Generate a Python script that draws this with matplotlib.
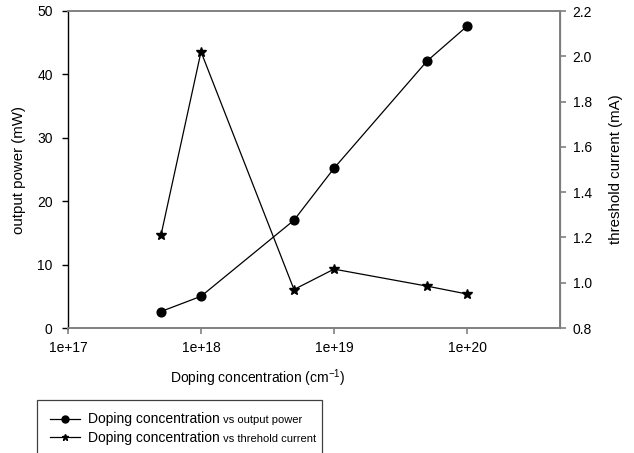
import matplotlib
matplotlib.use('Agg')
import matplotlib.pyplot as plt
from matplotlib.ticker import FixedLocator, FixedFormatter, NullLocator

plt.rcParams['font.family'] = ['Liberation Sans', 'DejaVu Sans']
plt.rcParams['mathtext.fontset'] = 'custom'
plt.rcParams['mathtext.rm'] = 'Liberation Sans'
plt.rcParams['mathtext.default'] = 'regular'

# ── Data ──────────────────────────────────────────────────────
doping = [5e17, 1e18, 5e18, 1e19, 5e19, 1e20]
output_power = [2.6, 5.0, 17.0, 25.2, 42.1, 47.6]          # mW
threshold_current = [1.21, 2.02, 0.97, 1.06, 0.985, 0.95]  # mA

xticks = [1e17, 1e18, 1e19, 1e20]
xtick_labels = ['1e+17', '1e+18', '1e+19', '1e+20']
left_ticks = [0, 10, 20, 30, 40, 50]
right_ticks = [0.8, 1.0, 1.2, 1.4, 1.6, 1.8, 2.0, 2.2]
legend_labels = ['Doping concentration', 'Doping concentration']
legend_suffixes = [' vs output power', ' vs threhold current']

GRAY = '#808080'

fig = plt.figure(figsize=(6.34, 4.53), dpi=100)
ax = fig.add_axes([68/634, 1-328/453, (560-68)/634, (328-11)/453])
ax2 = ax.twinx()

l1, = ax.plot(doping, output_power, color='black', lw=0.9, marker='o', ms=6.3)
l2, = ax2.plot(doping, threshold_current, color='black', lw=0.9, marker='*', ms=7.5)

ax.set_xscale('log')
ax.set_xlim(1e17, 5e20)
ax.set_ylim(0, 50)
ax2.set_ylim(0.8, 2.2)

ax.xaxis.set_major_locator(FixedLocator(xticks))
ax.xaxis.set_major_formatter(FixedFormatter(xtick_labels))
ax.xaxis.set_minor_locator(NullLocator())
ax.set_yticks(left_ticks)
ax2.set_yticks(right_ticks)
ax2.set_yticklabels([f'{v:.1f}' for v in right_ticks])

# ── spines / ticks ────────────────────────────────────────────
for sp in ['top', 'bottom']:
    ax.spines[sp].set_color(GRAY)
    ax.spines[sp].set_linewidth(1.4)
ax.spines['left'].set_color('black')
ax.spines['left'].set_linewidth(1.0)
ax2.spines['right'].set_color(GRAY)
ax2.spines['right'].set_linewidth(1.4)
for sp in ['top', 'bottom', 'left']:
    ax2.spines[sp].set_visible(False)

ax.tick_params(axis='x', direction='out', length=4, width=1.2, color=GRAY,
               pad=5, labelsize=10, top=False)
ax.tick_params(axis='y', direction='out', length=4, width=1, color='black',
               pad=7, labelsize=10)
ax2.tick_params(axis='y', direction='out', length=4, width=1.2, color=GRAY,
                pad=5, labelsize=10)

ax.set_ylabel('output power (mW)', fontsize=10.8, labelpad=8)
ax2.set_ylabel('threshold current (mA)', fontsize=10.8, labelpad=12)
ax.set_xlabel('Doping concentration (cm$^{-1}$)', fontsize=10)
ax.xaxis.set_label_coords((258 - 68) / 492, -(378 - 328) / 317)
ax.xaxis.label.set_va('center')

# ── legend ────────────────────────────────────────────────────
leg = fig.legend([l1, l2], legend_labels,
                 loc='upper left', bbox_to_anchor=(37/634, 1-400/453, 285/634, 0.0001),
                 mode='expand', borderaxespad=0, fontsize=10, frameon=True,
                 fancybox=False, edgecolor='#404040', framealpha=1,
                 handlelength=2.2, handletextpad=0.6, labelspacing=0.35,
                 borderpad=0.9)
leg.get_frame().set_linewidth(0.9)
for h in leg.legend_handles:
    h.set_markersize(5)

# small "vs ..." suffixes after the legend labels
fig.canvas.draw()
renderer = fig.canvas.get_renderer()
for t, s in zip(leg.get_texts(), legend_suffixes):
    bb = t.get_window_extent(renderer)
    _, _, d = renderer.get_text_width_height_descent(t.get_text(), t.get_fontproperties(), ismath=False)
    x, y = fig.transFigure.inverted().transform((bb.x1, bb.y0 + d))
    fig.text(x, y, s, fontsize=8, va='baseline', ha='left', zorder=10)

fig.savefig('out.png', dpi=100)
